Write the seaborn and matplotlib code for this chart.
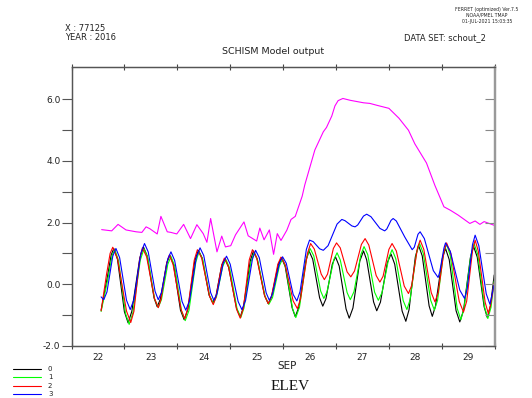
import numpy as np
import pandas as pd
import matplotlib
matplotlib.use("Agg")
import matplotlib.pyplot as plt
from matplotlib.lines import Line2D
from matplotlib.ticker import MultipleLocator, FixedLocator, FixedFormatter
import seaborn as sns

# ---------------- data (day of September, elevation) ----------------
series_names = ["0", "1", "2", "3"]

day_0 = [22.56, 22.68, 22.75, 22.80,
         22.87, 23.00, 23.07, 23.14, 23.29, 23.36,
         23.43, 23.56, 23.62, 23.68, 23.80, 23.86,
         23.93, 24.06, 24.13, 24.20, 24.33, 24.40,
         24.47, 24.60, 24.67, 24.73, 24.84, 24.90,
         24.97, 25.12, 25.19, 25.25, 25.38, 25.44,
         25.51, 25.65, 25.72, 25.78, 25.91, 25.97,
         26.04, 26.17, 26.23, 26.30, 26.43, 26.49,
         26.56, 26.69, 26.75, 26.81, 26.93, 26.99,
         27.06, 27.19, 27.25, 27.32, 27.45, 27.52,
         27.58, 27.71, 27.77, 27.84, 27.97, 28.04,
         28.11, 28.25, 28.32, 28.38, 28.50, 28.56,
         28.63, 28.76, 28.82, 28.88, 29.01, 29.07,
         29.14, 29.27, 29.34, 29.41, 29.54, 29.60,
         29.67, 29.80, 29.86, 29.92, 29.99]
elev_0 = [-0.84, 0.25, 0.95, 1.16,
          0.80, -0.89, -1.25, -0.88, 0.84, 1.21,
          0.92, -0.44, -0.73, -0.48, 0.69, 0.94,
          0.63, -0.84, -1.15, -0.81, 0.76, 1.10,
          0.85, -0.35, -0.60, -0.39, 0.62, 0.83,
          0.55, -0.78, -1.06, -0.74, 0.76, 1.08,
          0.82, -0.37, -0.63, -0.41, 0.64, 0.86,
          0.57, -0.76, -1.05, -0.73, 0.76, 1.08,
          0.81, -0.44, -0.71, -0.47, 0.65, 0.89,
          0.59, -0.80, -1.10, -0.77, 0.75, 1.08,
          0.79, -0.57, -0.86, -0.58, 0.70, 0.98,
          0.65, -0.87, -1.20, -0.83, 0.89, 1.26,
          0.92, -0.70, -1.04, -0.71, 0.83, 1.16,
          0.80, -0.86, -1.22, -0.85, 0.86, 1.23,
          0.88, -0.73, -1.08, -0.70, 0.30]

day_1 = [22.56, 22.69, 22.77, 22.82,
         22.89, 23.02, 23.09, 23.16, 23.30, 23.37,
         23.44, 23.57, 23.64, 23.70, 23.82, 23.88,
         23.95, 24.08, 24.15, 24.22, 24.35, 24.41,
         24.48, 24.61, 24.68, 24.74, 24.86, 24.92,
         24.99, 25.13, 25.20, 25.26, 25.39, 25.45,
         25.52, 25.66, 25.73, 25.80, 25.93, 25.99,
         26.05, 26.18, 26.24, 26.31, 26.44, 26.51,
         26.58, 26.71, 26.77, 26.83, 26.96, 27.02,
         27.08, 27.21, 27.27, 27.34, 27.47, 27.53,
         27.60, 27.73, 27.80, 27.87, 28.00, 28.06,
         28.13, 28.27, 28.34, 28.40, 28.52, 28.58,
         28.65, 28.79, 28.86, 28.92, 29.03, 29.09,
         29.16, 29.29, 29.36, 29.42, 29.55, 29.61,
         29.68, 29.81, 29.87, 29.93, 29.99]
elev_1 = [-0.88, 0.20, 0.95, 1.12,
          0.76, -0.94, -1.30, -0.93, 0.78, 1.15,
          0.87, -0.47, -0.75, -0.50, 0.65, 0.90,
          0.59, -0.87, -1.18, -0.85, 0.72, 1.05,
          0.80, -0.37, -0.62, -0.41, 0.59, 0.80,
          0.52, -0.80, -1.08, -0.77, 0.71, 1.02,
          0.77, -0.40, -0.65, -0.43, 0.60, 0.82,
          0.54, -0.80, -1.08, -0.74, 0.82, 1.16,
          0.92, -0.22, -0.46, -0.24, 0.80, 1.02,
          0.79, -0.27, -0.50, -0.24, 0.96, 1.22,
          0.96, -0.26, -0.52, -0.27, 0.87, 1.12,
          0.83, -0.53, -0.82, -0.50, 1.00, 1.32,
          1.00, -0.52, -0.84, -0.52, 0.98, 1.30,
          0.93, -0.78, -1.15, -0.78, 0.95, 1.32,
          0.96, -0.75, -1.11, -0.75, 0.10]

day_2 = [22.56, 22.66, 22.73, 22.78,
         22.87, 23.04, 23.12, 23.18, 23.29, 23.34,
         23.42, 23.57, 23.64, 23.69, 23.80, 23.85,
         23.92, 24.07, 24.14, 24.20, 24.32, 24.38,
         24.46, 24.61, 24.68, 24.73, 24.84, 24.89,
         24.97, 25.12, 25.19, 25.25, 25.36, 25.42,
         25.50, 25.65, 25.72, 25.78, 25.90, 25.96,
         26.04, 26.19, 26.27, 26.33, 26.46, 26.52,
         26.59, 26.72, 26.78, 26.84, 26.95, 27.01,
         27.08, 27.21, 27.28, 27.35, 27.48, 27.55,
         27.62, 27.76, 27.83, 27.89, 28.00, 28.06,
         28.14, 28.29, 28.37, 28.43, 28.54, 28.59,
         28.66, 28.80, 28.87, 28.93, 29.04, 29.09,
         29.17, 29.33, 29.41, 29.47, 29.58, 29.63,
         29.69, 29.82, 29.88, 29.93, 29.99]
elev_2 = [-0.86, 0.30, 1.00, 1.20,
          0.83, -0.87, -1.24, -0.88, 0.82, 1.18,
          0.89, -0.47, -0.76, -0.50, 0.69, 0.95,
          0.64, -0.81, -1.12, -0.78, 0.78, 1.12,
          0.85, -0.39, -0.66, -0.43, 0.62, 0.85,
          0.56, -0.81, -1.10, -0.77, 0.79, 1.12,
          0.86, -0.37, -0.63, -0.40, 0.65, 0.88,
          0.63, -0.54, -0.79, -0.47, 1.00, 1.32,
          1.14, 0.33, 0.15, 0.33, 1.16, 1.34,
          1.18, 0.40, 0.24, 0.43, 1.29, 1.48,
          1.27, 0.28, 0.07, 0.26, 1.13, 1.32,
          1.08, -0.06, -0.30, -0.04, 1.17, 1.43,
          1.13, -0.27, -0.57, -0.28, 1.05, 1.34,
          1.00, -0.56, -0.90, -0.55, 1.08, 1.43,
          1.07, -0.59, -0.95, -0.60, 0.04]

day_3 = [22.56, 22.61,
         22.67, 22.78, 22.84, 22.91, 23.04, 23.11,
         23.18, 23.31, 23.38, 23.45, 23.58, 23.64,
         23.70, 23.82, 23.88, 23.95, 24.09, 24.16,
         24.23, 24.36, 24.43, 24.50, 24.63, 24.69,
         24.75, 24.87, 24.93, 25.00, 25.15, 25.22,
         25.29, 25.42, 25.48, 25.55, 25.68, 25.74,
         25.80, 25.93, 25.99, 26.06, 26.19, 26.26,
         26.32, 26.44, 26.50, 26.57, 26.69, 26.76,
         26.85, 27.02, 27.11, 27.17, 27.30, 27.36,
         27.41, 27.52, 27.58, 27.66, 27.83, 27.92,
         27.96, 28.04, 28.08, 28.14, 28.30, 28.44,
         28.48, 28.55, 28.59, 28.67, 28.84, 28.93,
         28.96, 29.04, 29.07, 29.16, 29.34, 29.43,
         29.48, 29.58, 29.63, 29.70, 29.84, 29.91,
         29.99]
elev_3 = [-0.41, -0.50,
          -0.25, 0.91, 1.16, 0.86, -0.52, -0.82,
          -0.50, 1.00, 1.32, 1.05, -0.23, -0.50,
          -0.27, 0.82, 1.05, 0.77, -0.56, -0.84,
          -0.54, 0.88, 1.18, 0.93, -0.27, -0.52,
          -0.31, 0.70, 0.91, 0.65, -0.56, -0.82,
          -0.53, 0.81, 1.10, 0.86, -0.28, -0.52,
          -0.31, 0.68, 0.89, 0.68, -0.33, -0.54,
          -0.24, 1.13, 1.43, 1.38, 1.15, 1.10,
          1.25, 1.95, 2.10, 2.06, 1.89, 1.86,
          1.92, 2.21, 2.27, 2.19, 1.81, 1.73,
          1.79, 2.07, 2.13, 2.05, 1.53, 1.12,
          1.20, 1.62, 1.70, 1.48, 0.44, 0.22,
          0.39, 1.17, 1.34, 1.07, -0.19, -0.46,
          -0.15, 1.28, 1.59, 1.25, -0.31, -0.65,
          0.00]

day_4 = [22.57, 22.76, 22.88, 23.03, 23.22, 23.33, 23.41, 23.48, 23.62, 23.69,
         23.81, 23.88, 23.99, 24.12, 24.25, 24.37, 24.49, 24.56, 24.63, 24.75,
         24.84, 24.91, 25.01, 25.10, 25.26, 25.34, 25.50, 25.56, 25.64, 25.74,
         25.82, 25.89, 25.96, 26.07, 26.15, 26.23, 26.30, 26.36, 26.41, 26.60,
         26.76, 26.82, 26.92, 26.98, 27.04, 27.13, 27.27, 27.52, 27.64, 27.77,
         28.00, 28.19, 28.37, 28.49, 28.71, 28.87, 29.04, 29.16, 29.31, 29.53,
         29.63, 29.72, 29.80, 29.99]
elev_4 = [1.77, 1.73, 1.94, 1.76, 1.70, 1.68, 1.86, 1.80, 1.63, 2.20,
          1.70, 1.68, 1.63, 1.94, 1.48, 1.93, 1.64, 1.36, 2.13, 1.05,
          1.56, 1.21, 1.25, 1.60, 2.02, 1.57, 1.40, 1.82, 1.44, 1.76,
          0.97, 1.64, 1.42, 1.75, 2.10, 2.20, 2.55, 2.85, 3.22, 4.35,
          4.94, 5.08, 5.45, 5.78, 5.95, 6.02, 5.96, 5.88, 5.86, 5.80,
          5.70, 5.38, 4.99, 4.55, 3.93, 3.20, 2.51, 2.40, 2.24, 1.97,
          2.05, 1.94, 2.03, 1.91]

day_labels = ["22", "23", "24", "25", "26", "27", "28", "29"]
y_labels = ["-2.0", "0.0", "2.0", "4.0", "6.0"]

series_colors = {"0": "#000000", "1": "#00ff00", "2": "#ff0000", "3": "#0000ff"}
extra_color = "#ff00ff"

# ---------------- build frames ----------------
frames = []
for name, d, v in zip(series_names, [day_0, day_1, day_2, day_3],
                      [elev_0, elev_1, elev_2, elev_3]):
    frames.append(pd.DataFrame({"day": d, "elev": v, "series": name}))
df = pd.concat(frames, ignore_index=True)
df4 = pd.DataFrame({"day": day_4, "elev": elev_4})

# ---------------- figure ----------------
sns.set_theme(style="white")
plt.rcParams["font.family"] = ["DejaVu Sans"]
fig = plt.figure(figsize=(5.32, 3.98), dpi=100)
fig.patch.set_facecolor("white")
ax = fig.add_axes([0.1344, 0.1307, 0.7955, 0.701])

sns.lineplot(data=df4, x="day", y="elev", color=extra_color, lw=0.8,
             estimator=None, sort=False, ax=ax, legend=False)
sns.lineplot(data=df, x="day", y="elev", hue="series", palette=series_colors,
             hue_order=series_names, estimator=None, sort=False, lw=0.8,
             ax=ax, legend=False)

ax.set_xlim(22, 30)
ax.set_ylim(-2, 7.04)
ax.set_xlabel("")
ax.set_ylabel("")

# x ticks: marks at midnight, labels at noon
ax.xaxis.set_major_locator(MultipleLocator(1))
ax.xaxis.set_major_formatter(plt.NullFormatter())
ax.xaxis.set_minor_locator(FixedLocator([22.5 + i for i in range(len(day_labels))]))
ax.xaxis.set_minor_formatter(FixedFormatter(day_labels))
ax.tick_params(axis="x", which="major", direction="inout", length=4, width=0.8,
               color="#444444", top=True, bottom=True)
ax.tick_params(axis="x", which="minor", length=0, pad=5, labelsize=6.5,
               labelcolor="#222222")

# y ticks: every unit, labels at even values
ax.yaxis.set_major_locator(FixedLocator([-2, 0, 2, 4, 6]))
ax.yaxis.set_major_formatter(FixedFormatter(y_labels))
ax.yaxis.set_minor_locator(FixedLocator([-1, 1, 3, 5]))
ax.tick_params(axis="y", which="both", direction="out", length=7, width=0.8,
               color="#555555", left=True, right=False, labelsize=6.5,
               labelcolor="#222222", pad=1)
# right-hand inward ticks
axr = ax.twinx()
axr.set_ylim(ax.get_ylim())
axr.yaxis.set_major_locator(FixedLocator([-2, -1, 0, 1, 2, 3, 4, 5, 6]))
axr.yaxis.set_major_formatter(plt.NullFormatter())
axr.tick_params(axis="y", direction="in", length=7, width=0.8, color="#888888")
axr.grid(False)

for a in (ax, axr):
    for side in ("left", "bottom", "top"):
        a.spines[side].set_color("#555555")
        a.spines[side].set_linewidth(0.9)
    a.spines["right"].set_color("#999999")
    a.spines["right"].set_linewidth(1.6)

# ---------------- texts ----------------
tc = "#222222"
fig.text(65 / 532, 1 - 28.5 / 398, "X : 77125", fontsize=6, color=tc, va="center")
fig.text(65 / 532, 1 - 37.5 / 398, "YEAR : 2016", fontsize=6, color=tc, va="center")
fig.text(486 / 532, 1 - 37.5 / 398, "DATA SET: schout_2", fontsize=6, color=tc,
         va="center", ha="right")
fig.text(273 / 532, 1 - 51 / 398, "SCHISM Model output", fontsize=6.8, color=tc,
         va="center", ha="center")
fig.text(487 / 532, 1 - 9 / 398, "FERRET (optimized) Ver.7.5", fontsize=3.3,
         color=tc, va="center", ha="center")
fig.text(487 / 532, 1 - 15 / 398, "NOAA/PMEL TMAP", fontsize=3.3,
         color=tc, va="center", ha="center")
fig.text(487 / 532, 1 - 21 / 398, "01-JUL-2021 15:03:35", fontsize=3.3,
         color=tc, va="center", ha="center")
fig.text(287 / 532, 1 - 366 / 398, "SEP", fontsize=7.5, color=tc,
         va="center", ha="center")
fig.text(290 / 532, 1 - 386 / 398, "ELEV", fontsize=11, color="#111111",
         va="center", ha="center", family=["Liberation Serif", "DejaVu Serif"])

# legend (FERRET style, bottom-left)
leg_y = [369, 377.3, 385.7, 394]
for name, yy in zip(series_names, leg_y):
    fy = 1 - yy / 398
    fig.add_artist(Line2D([13 / 532, 41 / 532], [fy, fy], color=series_colors[name],
                          lw=0.8, transform=fig.transFigure))
    fig.text(48 / 532, fy, name, fontsize=5, color=tc, va="center", ha="left")

fig.savefig("out.png", dpi=100, facecolor="white")
